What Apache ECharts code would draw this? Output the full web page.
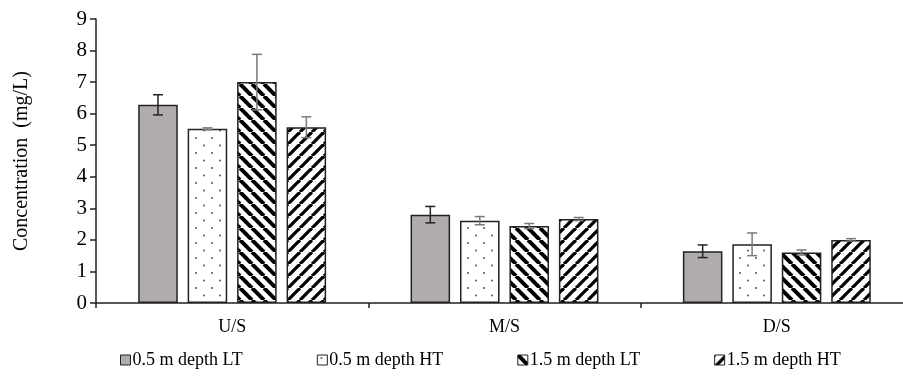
<!DOCTYPE html>
<html>
<head>
<meta charset="utf-8">
<script src="https://cdn.jsdelivr.net/npm/echarts@6/dist/echarts.min.js"></script>
<style>
html, body { margin: 0; padding: 0; background: #fff; }
#chart { width: 903px; height: 381px; }
</style>
</head>
<body>
<div id="chart"></div>
<script>
/* categories */
var sites = ['U/S', 'M/S', 'D/S'];
var seriesNames = ['0.5 m depth LT', '0.5 m depth HT', '1.5 m depth LT', '1.5 m depth HT'];
/* mean values (mg/L) */
var lt05 = [6.28, 2.80, 1.64];
var ht05 = [5.52, 2.61, 1.86];
var lt15 = [7.00, 2.44, 1.60];
var ht15 = [5.57, 2.66, 2.00];
/* error (+/-) */
var lt05Err = [0.32, 0.26, 0.20];
var ht05Err = [0.03, 0.13, 0.36];
var lt15Err = [0.88, 0.08, 0.08];
var ht15Err = [0.33, 0.05, 0.04];
/* y ticks */
var yMin = 0, yMax = 9, yStep = 1;

var catGap = 0.31, barGap = 0.25;
var serif = '"Liberation Serif", "Times New Roman", serif';

// pattern tiles
function makeTile(w, h, draw) {
	var c = document.createElement('canvas');
	c.width = w; c.height = h;
	var ctx = c.getContext('2d');
	ctx.fillStyle = '#ffffff';
	ctx.fillRect(0, 0, w, h);
	draw(ctx);
	return { image: c, repeat: 'repeat' };
}
var dotFill = makeTile(16, 15, function(ctx) {
	ctx.fillStyle = '#444';
	ctx.beginPath(); ctx.arc(4, 3, 0.9, 0, Math.PI * 2); ctx.fill();
	ctx.beginPath(); ctx.arc(12, 10.5, 0.9, 0, Math.PI * 2); ctx.fill();
});
var backFill = makeTile(12, 12, function(ctx) {
	ctx.strokeStyle = '#000'; ctx.lineWidth = 4;
	for (var k = -1; k <= 1; k++) {
		ctx.beginPath(); ctx.moveTo(k * 12, 0); ctx.lineTo(k * 12 + 12, 12); ctx.stroke();
	}
});
var fwdFill = makeTile(12, 12, function(ctx) {
	ctx.strokeStyle = '#000'; ctx.lineWidth = 3.3;
	for (var k = -1; k <= 1; k++) {
		ctx.beginPath(); ctx.moveTo(k * 12, 12); ctx.lineTo(k * 12 + 12, 0); ctx.stroke();
	}
});

var fills = ['#b0acab', dotFill, backFill, fwdFill];
var values = [lt05, ht05, lt15, ht15];
var errors = [lt05Err, ht05Err, lt15Err, ht15Err];

var errData = [];
for (var s = 0; s < 4; s++) {
	for (var i = 0; i < sites.length; i++) {
		errData.push([i, values[s][i], errors[s][i], s]);
	}
}

var myChart = echarts.init(document.getElementById('chart'));

var series = [];
for (var s2 = 0; s2 < 4; s2++) {
	series.push({
		name: seriesNames[s2],
		type: 'bar',
		data: values[s2],
		barGap: (barGap * 100) + '%',
		barCategoryGap: (catGap * 100) + '%',
		itemStyle: { color: fills[s2], borderColor: '#222', borderWidth: 1.5 }
	});
}
// error bars
series.push({
	type: 'custom',
	data: errData,
	z: 10,
	renderItem: function(params, api) {
		var ci = api.value(0), v = api.value(1), e = api.value(2), si = api.value(3);
		var bw = api.size([1, 0])[0];
		var groupW = bw * (1 - catGap);
		var w = groupW / (4 + 3 * barGap);
		var c = api.coord([ci, v]);
		var x = c[0] - groupW / 2 + si * w * (1 + barGap) + w / 2;
		var top = api.coord([ci, v + e])[1];
		var bot = api.coord([ci, v - e])[1];
		var color = si === 0 ? '#222' : '#7a7a7a';
		var st = { stroke: color, lineWidth: 1.5 };
		return {
			type: 'group',
			children: [
				{ type: 'line', shape: { x1: x, y1: top, x2: x, y2: bot }, style: st },
				{ type: 'line', shape: { x1: x - 5, y1: top, x2: x + 5, y2: top }, style: st },
				{ type: 'line', shape: { x1: x - 5, y1: bot, x2: x + 5, y2: bot }, style: st }
			]
		};
	}
});

var option = {
	animation: false,
	grid: { left: 96, right: -10, top: 19, bottom: 78, outerBoundsMode: 'none', containLabel: false },
	legend: {
		data: seriesNames,
		left: 115,
		top: 346,
		icon: 'rect',
		itemWidth: 10,
		itemHeight: 10,
		itemGap: 74,
		itemStyle: { borderColor: '#222', borderWidth: 1 },
		textStyle: { fontFamily: serif, fontSize: 18, color: '#000', padding: [0, 0, 0, -3] }
	},
	xAxis: {
		type: 'category',
		data: sites,
		axisLine: { lineStyle: { color: '#222', width: 1.5 } },
		axisTick: { show: true, length: 5, lineStyle: { color: '#222', width: 1.5 } },
		axisLabel: { margin: 15, fontFamily: serif, fontSize: 18, color: '#000' }
	},
	yAxis: {
		type: 'value',
		min: yMin, max: yMax, interval: yStep,
		name: 'Concentration  (mg/L)',
		nameLocation: 'middle',
		nameGap: 64,
		nameTextStyle: { fontFamily: serif, fontSize: 20, color: '#000' },
		axisLine: { show: true, lineStyle: { color: '#222', width: 1.5 } },
		axisTick: { show: true, length: 6, lineStyle: { color: '#222', width: 1.5 } },
		splitLine: { show: false },
		axisLabel: { margin: 9, fontFamily: serif, fontSize: 21, color: '#000' }
	},
	series: series
};
myChart.setOption(option);
</script>
</body>
</html>
